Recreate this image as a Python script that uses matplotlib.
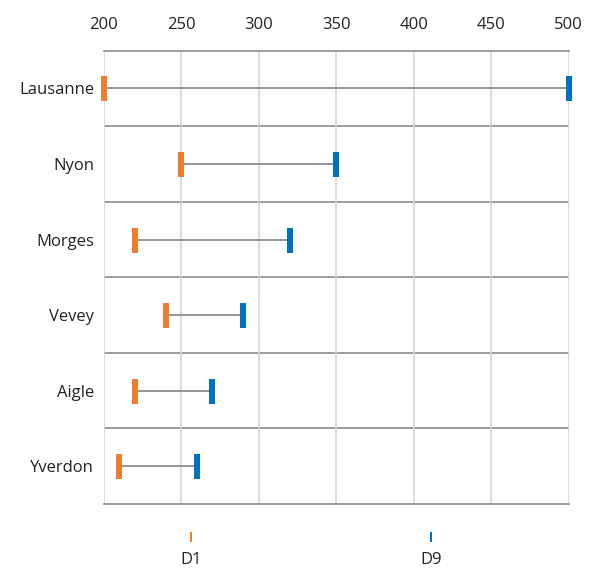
import matplotlib.pyplot as plt
import numpy as np

plt.rcParams['font.family'] = ['Open Sans', 'DejaVu Sans']

# données
villes = ["Lausanne", "Nyon", "Morges", "Vevey", "Aigle", "Yverdon"]
d1 = [200, 250, 220, 240, 220, 210]
d9 = [500, 350, 320, 290, 270, 260]
series_noms = ["D1", "D9"]
ticks_x = [200, 250, 300, 350, 400, 450, 500]

ORANGE = "#ED7D31"
BLEU = "#0070C0"
GRIS_LIGNE = "#8c8c8c"

# marqueur rectangle vertical
barre = [(-0.22, -1), (0.22, -1), (0.22, 1), (-0.22, 1), (-0.22, -1)]

fig = plt.figure(figsize=(6, 5.7), dpi=100)
ax = fig.add_axes([0.173, 0.116, 0.775, 0.795])

y = np.arange(len(villes))
for i in range(len(villes)):
    ax.plot([d1[i], d9[i]], [y[i], y[i]], color=GRIS_LIGNE, lw=1.3, zorder=2)
ax.plot(d1, y, ls='none', marker=barre, markersize=18, color=ORANGE,
        markeredgewidth=0, zorder=3, clip_on=False)
ax.plot(d9, y, ls='none', marker=barre, markersize=18, color=BLEU,
        markeredgewidth=0, zorder=3, clip_on=False)

ax.set_xlim(200, 500)
ax.set_ylim(len(villes) - 0.5, -0.5)
ax.set_xticks(ticks_x)
ax.set_yticks(y)
ax.set_yticklabels(villes)
ax.xaxis.tick_top()
ax.tick_params(length=0, labelsize=12, colors="#222222")
ax.tick_params(axis='x', pad=13)
ax.tick_params(axis='y', pad=7)

ax.grid(axis='x', color="#d4d4d4", lw=1.2, zorder=0)
for s in range(1, len(villes)):
    ax.axhline(s - 0.5, color="#8a8a8a", lw=1.2, zorder=1)
for nom in ['left', 'right']:
    ax.spines[nom].set_visible(False)
for nom in ['top', 'bottom']:
    ax.spines[nom].set_color("#8a8a8a")
    ax.spines[nom].set_linewidth(1.2)

# légende personnalisée
leg = fig.add_axes([0, 0, 1, 0.1])
leg.set_xlim(0, 600)
leg.set_ylim(57, 0)
leg.axis('off')
petite = [(-0.15, -1), (0.15, -1), (0.15, 1), (-0.15, 1), (-0.15, -1)]
for nom, couleur, xpos in zip(series_noms, [ORANGE, BLEU], [191, 431]):
    leg.plot([xpos], [24], ls='none', marker=petite, markersize=7,
             color=couleur, markeredgewidth=0)
    leg.text(xpos, 47, nom, ha='center', va='center', fontsize=12, color="#222222")

fig.savefig("out.png", dpi=100)
